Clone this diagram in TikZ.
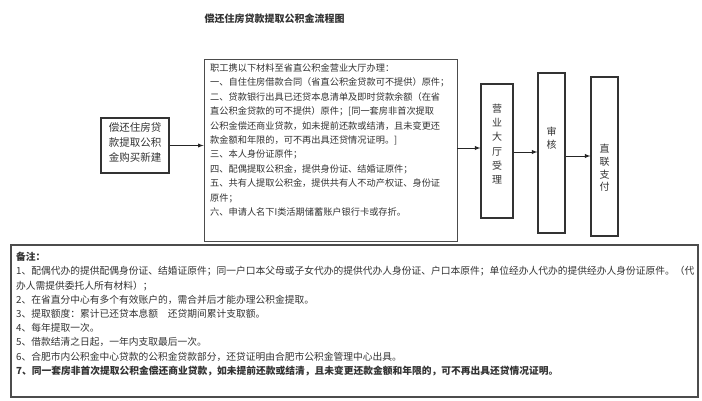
\documentclass[tikz,border=0pt]{standalone}
\usepackage{fontspec}
\setmainfont{Noto Sans CJK SC}
\begin{document}
\begin{tikzpicture}[x=1pt,y=-1pt,
    box/.style={draw=black!80,line width=1.2pt,inner sep=0pt},
    txt/.style={text=black!80,inner sep=0pt},
    arr/.style={-latex,line width=0.9pt,draw=black!85}]
\useasboundingbox (0,0) rectangle (702,400);
\fill[white] (0,0) rectangle (702,400);

\node[txt,font=\bfseries\fontsize{10}{12}\selectfont] (title) at (274.5,19) {偿还住房贷款提取公积金流程图};

% boxes of the flow
\node[box,minimum width=68,minimum height=55] (loan) at (135,145.5) {};
\node[box,draw=black!70,line width=0.9pt,minimum width=253,minimum height=182] (apply) at (330.5,150) {};
\node[box,minimum width=32,minimum height=134] (hall) at (497,151) {};
\node[box,minimum width=27,minimum height=160] (check) at (551.5,153) {};
\node[box,minimum width=27,minimum height=159] (pay) at (604.5,156.5) {};
\node[box,draw=black!70,line width=1.3pt,minimum width=687,minimum height=152] (note) at (354.5,321) {};

\node[txt,font=\fontsize{10.5}{15}\selectfont,align=center] (loantext) at ([yshift=3.5pt]loan.center) {偿还住房贷\\款提取公积\\金购买新建};

\node[txt,font=\fontsize{9.2}{14.4}\selectfont,align=left,anchor=north west] (applytext) at (210,63.5) {职工携以下材料至省直公积金营业大厅办理：\\
一、自住住房借款合同（省直公积金贷款可不提供）原件；\\
二、贷款银行出具已还贷本息清单及即时贷款余额（在省\\
直公积金贷款的可不提供）原件；[同一套房非首次提取\\
公积金偿还商业贷款，如未提前还款或结清，且未变更还\\
款金额和年限的，可不再出具还贷情况证明。]\\
三、本人身份证原件；\\
四、配偶提取公积金，提供身份证、结婚证原件；\\
五、共有人提取公积金，提供共有人不动产权证、身份证\\
原件；\\
六、申请人名下I类活期储蓄账户银行卡或存折。};

\node[txt,font=\fontsize{10}{14.3}\selectfont,align=center] (halltext) at ([yshift=7pt]hall.center) {营\\业\\大\\厅\\受\\理};
\node[txt,font=\fontsize{10}{13}\selectfont,align=center] (checktext) at ([yshift=15pt]check.center) {审\\核};
\node[txt,font=\fontsize{10}{12.7}\selectfont,align=center] (paytext) at ([yshift=-11.5pt]pay.center) {直\\联\\支\\付};

% connectors
\draw[arr] (loan.east) -- (loan.east -| apply.west);
\draw[arr] ([yshift=2pt]apply.east) -- ([yshift=2pt]apply.east -| hall.west);
\draw[arr] ([yshift=-1pt]hall.east) -- ([yshift=-1pt]hall.east -| check.west);
\draw[arr] ([yshift=-3pt]check.east) -- ([yshift=-3pt]check.east -| pay.west);

\node[txt,font=\fontsize{9.75}{14.2}\selectfont,align=left,anchor=north west] (notetext) at (16,252) {{\bfseries 备注：}\\
1、配偶代办的提供配偶身份证、结婚证原件；同一户口本父母或子女代办的提供代办人身份证、户口本原件；单位经办人代办的提供经办人身份证原件。（代\\
办人需提供委托人所有材料）；\\
2、在省直分中心有多个有效账户的，需合并后才能办理公积金提取。\\
3、提取额度：累计已还贷本息额　还贷期间累计支取额。\\
4、每年提取一次。\\
5、借款结清之日起，一年内支取最后一次。\\
6、合肥市内公积金中心贷款的公积金贷款部分，还贷证明由合肥市公积金管理中心出具。\\
{\bfseries 7、同一套房非首次提取公积金偿还商业贷款，如未提前还款或结清，且未变更还款金额和年限的，可不再出具还贷情况证明。}};
\end{tikzpicture}
\end{document}
